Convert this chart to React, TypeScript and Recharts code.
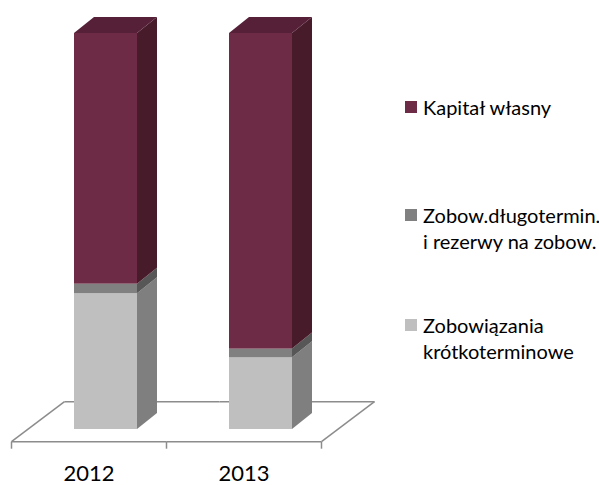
import { Bar, BarChart, XAxis, YAxis } from "recharts";

const years = ["2012", "2013"];
const shortTerm = [34.3, 18.1];
const longTerm = [2.4, 2.2];
const equity = [63.3, 79.7];

const seriesNames = [
  "Kapitał własny",
  "Zobow.długotermin.\ni rezerwy na zobow.",
  "Zobowiązania\nkrótkoterminowe",
];

const data = years.map((year, i) => ({
  year,
  shortTerm: shortTerm[i],
  longTerm: longTerm[i],
  equity: equity[i],
}));

const W = 599;
const H = 485;
const margin = { top: 33, right: 261, bottom: 26, left: 28 };
const BAND = (W - margin.left - margin.right) / years.length;

// depth of the bars and of the floor
const DX = 20;
const DY = 16;
const FLOOR_DX = 53;
const FLOOR_DY = 40;
const SHIFT = 16.5; // front edge of the floor sits left of the bar center

const colors = {
  equity: { front: "#6E2B45", side: "#481B2B", top: "#552038" },
  longTerm: { front: "#808080", side: "#575757", top: "#6a6a6a" },
  shortTerm: { front: "#BFBFBF", side: "#7F7F7F", top: "#a0a0a0" },
};

function Floor({ cx, bottom, index }: { cx: number; bottom: number; index: number }) {
  const fy = bottom + 12.7;
  const l = cx - SHIFT - BAND / 2;
  const r = cx - SHIFT + BAND / 2;
  const stroke = "#8C8C8C";
  const last = index === years.length - 1;
  return (
    <g stroke={stroke} strokeWidth={1.5} fill="none">
      <line x1={l} y1={fy} x2={r} y2={fy} />
      <line x1={l + FLOOR_DX} y1={fy - FLOOR_DY} x2={r + FLOOR_DX} y2={fy - FLOOR_DY} />
      {index === 0 && <line x1={l} y1={fy + 7} x2={l} y2={fy} />}
      {index === 0 && <line x1={l} y1={fy} x2={l + FLOOR_DX} y2={fy - FLOOR_DY} />}
      <line x1={r} y1={fy} x2={r} y2={fy + 7} />
      {last && <line x1={r} y1={fy} x2={r + FLOOR_DX} y2={fy - FLOOR_DY} />}
    </g>
  );
}

function makeBox(c: { front: string; side: string; top: string }, withTop: boolean, withFloor: boolean) {
  return (props: any) => {
    const { x, y, width, height, index } = props;
    const r = x + width;
    const b = y + height;
    return (
      <g>
        {withFloor && <Floor cx={x + width / 2} bottom={b} index={index} />}
        <rect x={x} y={y} width={width} height={height} fill={c.front} />
        <polygon
          points={`${r},${b} ${r},${y} ${r + DX},${y - DY} ${r + DX},${b - DY}`}
          fill={c.side}
        />
        {withTop && (
          <polygon
            points={`${x},${y} ${x + DX},${y - DY} ${r + DX},${y - DY} ${r},${y}`}
            fill={c.top}
          />
        )}
      </g>
    );
  };
}

function YearTick(props: any) {
  const { x, payload } = props;
  return (
    <text
      x={x - SHIFT}
      y={481}
      textAnchor="middle"
      fill="#000"
      fontSize={22}
      fontFamily="Lato, sans-serif"
    >
      {payload.value}
    </text>
  );
}

const legendItems = [
  { name: seriesNames[0], color: colors.equity.front, top: 94 },
  { name: seriesNames[1], color: colors.longTerm.front, top: 202 },
  { name: seriesNames[2], color: colors.shortTerm.front, top: 312 },
];

export default function App() {
  return (
    <div style={{ position: "absolute", left: 0, top: 0, width: W, height: H, background: "#fff" }}>
      <BarChart width={W} height={H} data={data} margin={margin}>
        <YAxis hide domain={[0, 100]} />
        <XAxis
          dataKey="year"
          axisLine={false}
          tickLine={false}
          height={30}
          tick={<YearTick />}
          interval={0}
        />
        <Bar
          dataKey="shortTerm"
          stackId="a"
          barSize={63}
          fill={colors.shortTerm.front}
          shape={makeBox(colors.shortTerm, false, true)}
          isAnimationActive={false}
        />
        <Bar
          dataKey="longTerm"
          stackId="a"
          barSize={63}
          fill={colors.longTerm.front}
          shape={makeBox(colors.longTerm, false, false)}
          isAnimationActive={false}
        />
        <Bar
          dataKey="equity"
          stackId="a"
          barSize={63}
          fill={colors.equity.front}
          shape={makeBox(colors.equity, true, false)}
          isAnimationActive={false}
        />
      </BarChart>
      {legendItems.map((it) => (
        <div
          key={it.name}
          style={{
            position: "absolute",
            left: 405,
            top: it.top,
            fontFamily: "Lato, sans-serif",
            fontSize: 20,
            lineHeight: "26px",
            color: "#000",
            whiteSpace: "pre",
          }}
        >
          <span
            style={{
              position: "absolute",
              left: 0,
              top: 7,
              width: 12,
              height: 12,
              background: it.color,
            }}
          />
          <div style={{ marginLeft: 18 }}>{it.name}</div>
        </div>
      ))}
    </div>
  );
}
